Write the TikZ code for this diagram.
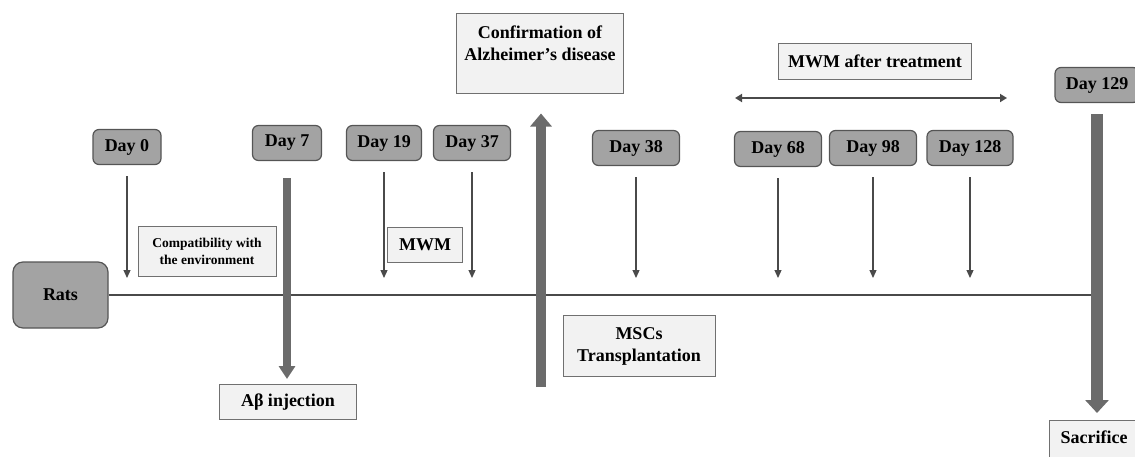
\documentclass[tikz,border=0pt]{standalone}
\usepackage{fontspec}
\setmainfont{Liberation Serif}
\usetikzlibrary{arrows.meta,calc}
\definecolor{dayfill}{HTML}{A3A3A3}
\definecolor{dayline}{HTML}{555555}
\definecolor{notefill}{HTML}{F2F2F2}
\definecolor{noteline}{HTML}{707070}
\definecolor{bigcol}{HTML}{6B6B6B}
\definecolor{tickcol}{HTML}{4A4A4A}

\begin{document}
\begin{tikzpicture}[x=1pt,y=-1pt,
  font=\bfseries\fontsize{18}{22}\selectfont,
  daybox/.style={draw=dayline,fill=dayfill,line width=1.2pt,rounded corners=6pt,minimum height=35pt,inner sep=2pt},
  notebox/.style={draw=noteline,fill=notefill,line width=1pt,inner sep=3pt,align=center},
  tick/.style={draw=tickcol,line width=1.2pt,shorten <=11pt,shorten >=17pt,-{Triangle[length=8pt,width=7pt]}},
  bigarrow/.style={draw=bigcol,-{Triangle[length=13pt,width=#1]}},
  span/.style={draw=tickcol,line width=2pt,{Triangle[length=7pt,width=8pt]}-{Triangle[length=7pt,width=8pt]}}]
\useasboundingbox (0,0) rectangle (1135,456);

% start and timeline
\node[daybox,minimum width=95pt,minimum height=66pt,rounded corners=10pt] (rats) at (60.5,295) {Rats};
\coordinate (tl) at (0,295);
\coordinate (tlend) at (1098,295);
\draw[tickcol,line width=2pt] (rats.east) -- (tlend);

% days
\node[daybox,minimum width=68pt] (d0) at (127,147) {Day 0};
\node[daybox,minimum width=69pt] (d7) at (287,143) {Day 7};
\node[daybox,minimum width=75pt] (d19) at (384,143) {Day 19};
\node[daybox,minimum width=77pt] (d37) at (472,143) {Day 37};
\node[daybox,minimum width=87pt] (d38) at (636,148) {Day 38};
\node[daybox,minimum width=87pt] (d68) at (778,149) {Day 68};
\node[daybox,minimum width=87pt] (d98) at (873,148) {Day 98};
\node[daybox,minimum width=86pt] (d128) at (970,148) {Day 128};
\node[daybox,minimum width=84pt] (d129) at (1097,85) {Day 129};

% events
\node[notebox,font=\bfseries\fontsize{13.5}{17}\selectfont,minimum width=138pt,minimum height=50pt] (env) at (207,251) {Compatibility with\\the environment};
\node[notebox,minimum width=137pt,minimum height=35pt] (inj) at (288,402) {Aβ injection};
\node[notebox,minimum width=75pt,minimum height=35pt] (mwm) at (425,245) {MWM};
\node[notebox,minimum width=167pt,minimum height=80pt] (conf) at (540,53) {Confirmation of\\Alzheimer’s disease\\[-2pt]\mbox{}};
\node[notebox,minimum width=152pt,minimum height=61pt] (msc) at (639,346) {MSCs\\Transplantation};
\node[notebox,minimum width=193pt,minimum height=36pt] (mwmt) at (875,61) {MWM after treatment};
\node[notebox,minimum width=90pt,minimum height=44pt,anchor=north,text depth=10pt] (sac) at (1094,420) {Sacrifice};

% arrows
\foreach \d in {d0,d19,d37,d38,d68,d98,d128}
  \draw[tick] (\d.south) -- (\d.south |- tl);
\draw[bigarrow=16pt,line width=8pt,shorten <=17pt,shorten >=5pt] (d7.south) -- (d7.south |- inj.north);
\coordinate (cbase) at (541,387);
\draw[bigarrow=21pt,line width=10pt,shorten >=20pt] (cbase) -- (cbase |- conf.south);
\draw[bigarrow=23pt,line width=12pt,shorten <=11pt,shorten >=7pt] (d129.south) -- (d129.south |- sac.north);
\coordinate (sa) at (735,98);
\coordinate (sb) at (1007,98);
\draw[span] (sa) -- (sb);
\end{tikzpicture}
\end{document}
